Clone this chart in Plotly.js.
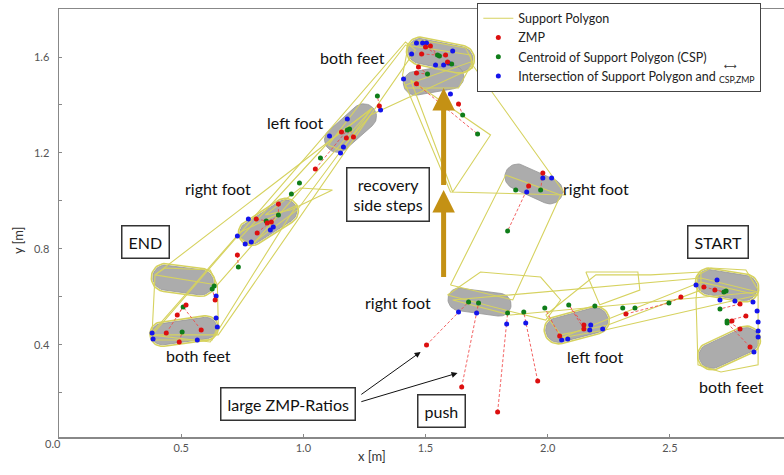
<!DOCTYPE html>
<html><head><meta charset="utf-8">
<script src="https://cdn.plot.ly/plotly-3.0.1.min.js"></script>
<style>body{margin:0;background:#fff}</style>
</head><body><div id="chart" style="width:784px;height:475px"></div>
<script>
// ---- feet (gray soles): centre, orientation (deg), length, width [m]
const footX = [0.512, 0.508, 0.857, 1.193, 1.561, 1.533, 1.943, 1.721, 2.119, 2.734, 2.742];
const footY = [0.458, 0.671, 0.9125, 1.304, 1.608, 1.504, 1.071, 0.579, 0.483, 0.65, 0.3875];
const footAngle = [8, -8, 33, 42, -12, 10, -25, -8, 15, -10, 25];
const footLen = [0.27, 0.25, 0.26, 0.25, 0.27, 0.25, 0.25, 0.26, 0.26, 0.25, 0.26];
const footWid = [0.09, 0.105, 0.095, 0.105, 0.105, 0.1, 0.105, 0.095, 0.105, 0.105, 0.105];
const outlinedFeet = [0, 1, 2, 4, 8, 9, 10];

// ---- support polygons
const spX = [
  [0.381,0.393,0.434,0.619,0.648,0.652,0.627,0.393],
  [0.373,0.742,0.975,0.947,0.652,0.619],
  [0.381,1.418,1.459,0.652],
  [0.393,1.111,1.283,0.648],
  [0.742,1.111,1.283,0.975,0.783],
  [0.844,0.988,1.119,0.947],
  [1.102,1.418,1.684,1.693,1.275,1.152],
  [1.406,1.430,1.480,1.664,1.693,1.635,1.418],
  [1.418,1.684,2.074,1.602],
  [1.439,1.766,1.611],
  [1.602,1.828,2.053,1.857],
  [1.590,1.725,1.971,2.053,1.992,1.857],
  [1.992,2.197,2.422,2.627,2.627,2.246,2.053],
  [2.156,2.295,2.369,2.377,2.213],
  [1.611,2.627,2.861,1.848],
  [2.053,2.627,2.861,2.234],
  [2.615,2.668,2.811,2.861,2.861,2.709,2.615,2.607]
];
const spY = [
  [0.45,0.692,0.721,0.7125,0.65,0.483,0.421,0.421],
  [0.442,0.871,0.983,0.942,0.4625,0.4125],
  [0.442,1.6625,1.629,0.442],
  [0.692,1.254,1.3875,0.65],
  [0.846,1.254,1.3875,0.9625,0.817],
  [0.942,1.054,1.046,0.9625],
  [1.233,1.65,1.608,1.554,1.358,1.2125],
  [1.525,1.65,1.671,1.6375,1.579,1.471,1.471],
  [1.483,1.579,1.025,1.0375],
  [1.504,1.275,1.0375],
  [0.65,1.108,1.025,0.5875],
  [0.608,0.704,0.683,0.5875,0.504,0.5375],
  [0.525,0.692,0.692,0.704,0.629,0.483,0.442],
  [0.704,0.704,0.704,0.629,0.567],
  [0.5875,0.679,0.621,0.525],
  [0.429,0.662,0.608,0.4625],
  [0.692,0.721,0.7125,0.629,0.317,0.2875,0.317,0.5875]
];

// ---- centroid of support polygon (CSP)
const cspX = [0.508,0.504,0.627,0.635,0.734,0.898,0.848,0.951,0.984,1.070,1.180,1.189,1.303,1.549,1.557,1.607,1.508,1.713,1.652,1.869,1.971,1.836,1.676,1.717,1.836,1.902,1.988,2.086,2.193,2.307,2.357,2.496,2.721,2.730,2.705,2.734,2.734];
const cspY = [0.558,0.454,0.633,0.646,0.725,0.942,0.917,1.029,1.075,1.179,1.296,1.3,1.4375,1.608,1.604,1.571,1.529,1.279,1.358,1.046,1.046,0.875,0.579,0.575,0.533,0.5375,0.554,0.567,0.5625,0.554,0.554,0.575,0.621,0.625,0.55,0.5,0.492];

// ---- ZMP and the CSP it is linked to
const zmpX = [0.520,0.484,0.439,0.582,0.492,0.639,0.730,0.898,0.807,0.852,0.869,0.811,1.049,1.156,1.176,1.205,1.311,1.500,1.520,1.484,1.582,1.590,1.471,1.463,1.463,1.635,1.980,1.922,1.504,1.648,1.795,1.959,2.049,2.148,2.148,2.320,2.545,2.639,2.684,2.787,2.811,2.787,2.828,2.754];
const zmpY = [0.567,0.525,0.45,0.4625,0.4125,0.5875,0.775,0.9875,0.925,0.908,0.9125,0.867,1.133,1.2875,1.2625,1.267,1.396,1.642,1.646,1.613,1.608,1.579,1.558,1.533,1.488,1.404,1.117,1.0625,0.4,0.225,0.121,0.25,0.4375,0.483,0.467,0.529,0.6,0.642,0.629,0.571,0.521,0.467,0.392,0.5];
const zmpLink = [0,0,0,0,1,2,4,5,6,6,6,5,10,10,11,11,12,13,13,13,14,15,16,16,17,18,20,21,22,23,24,25,26,27,27,31,31,32,32,34,35,35,36,35];

// ---- intersection of support polygon and CSP-ZMP segment
const ipX = [0.643,0.643,0.648,0.381,0.385,0.566,0.730,0.775,0.865,0.877,0.762,0.787,1.107,1.164,1.152,1.316,1.180,1.443,1.463,1.488,1.504,1.611,1.594,1.574,1.541,1.410,1.602,1.980,2.016,1.914,1.635,1.709,1.832,1.910,2.057,2.082,2.172,2.225,2.176,2.607,2.693,2.705,2.766,2.840,2.857,2.861,2.861,2.861,2.844];
const ipY = [0.604,0.5125,0.475,0.45,0.425,0.421,0.854,0.925,0.879,0.892,0.821,0.829,1.271,1.225,1.2,1.379,1.342,1.613,1.658,1.658,1.658,1.625,1.575,1.567,1.567,1.508,1.446,1.096,1.096,1.0375,0.5375,0.533,0.4875,0.492,0.421,0.425,0.4625,0.467,0.483,0.65,0.671,0.5875,0.583,0.579,0.542,0.496,0.458,0.433,0.371];

// ---- axis ticks
const xTickVals = [0.5, 1.0, 1.5, 2.0, 2.5];
const xTickText = ['0.5', '1.0', '1.5', '2.0', '2.5'];
const yTickVals = [0.2, 0.4, 0.6, 0.8, 1.0, 1.2, 1.4, 1.6];
const yTickText = [' ', '0.4', ' ', '0.8', ' ', '1.2', ' ', '1.6'];

// ---- helpers
function stadium(cx, cy, ang, len, wid) {
  const a = ang * Math.PI / 180, h = (len - wid) / 2, r = wid / 2;
  const xs = [], ys = [];
  for (let i = 0; i <= 24; i++) {
    const t = -Math.PI / 2 + Math.PI * i / 24;
    xs.push(h + r * Math.cos(t)); ys.push(r * Math.sin(t));
  }
  for (let i = 0; i <= 24; i++) {
    const t = Math.PI / 2 + Math.PI * i / 24;
    xs.push(-h + r * Math.cos(t)); ys.push(r * Math.sin(t));
  }
  xs.push(xs[0]); ys.push(ys[0]);
  return {
    x: xs.map((u, k) => cx + u * Math.cos(a) - ys[k] * Math.sin(a)),
    y: xs.map((u, k) => cy + u * Math.sin(a) + ys[k] * Math.cos(a))
  };
}

const YEL = 'rgb(214,210,95)';
const traces = [];

footX.forEach((fx, i) => {
  const s = stadium(fx, footY[i], footAngle[i], footLen[i], footWid[i]);
  traces.push({type: 'scatter', mode: 'lines', x: s.x, y: s.y, fill: 'toself',
    fillcolor: 'rgb(172,172,172)', line: {color: 'rgb(150,150,150)', width: 0.8},
    hoverinfo: 'skip', showlegend: false});
});
outlinedFeet.forEach(i => {
  const s = stadium(footX[i], footY[i], footAngle[i], footLen[i] + 0.012, footWid[i] + 0.012);
  traces.push({type: 'scatter', mode: 'lines', x: s.x, y: s.y,
    line: {color: YEL, width: 1.6}, hoverinfo: 'skip', showlegend: false});
});
spX.forEach((px, i) => {
  traces.push({type: 'scatter', mode: 'lines', x: px.concat([px[0]]), y: spY[i].concat([spY[i][0]]),
    line: {color: YEL, width: 1.1}, name: 'Support Polygon', legendgroup: 'sp',
    showlegend: i === 0, legendrank: 1, hoverinfo: 'skip'});
});
const dx = [], dy = [];
zmpX.forEach((zx, i) => { dx.push(zx, cspX[zmpLink[i]], null); dy.push(zmpY[i], cspY[zmpLink[i]], null); });
traces.push({type: 'scatter', mode: 'lines', x: dx, y: dy,
  line: {color: 'rgba(240,70,70,0.85)', width: 1, dash: '3px,2px'}, showlegend: false, hoverinfo: 'skip'});
traces.push({type: 'scatter', mode: 'markers', x: ipX, y: ipY, name: 'Intersection of Support Polygon and <sub>CSP,ZMP</sub>',
  marker: {color: 'rgb(20,20,235)', size: 5}, legendrank: 4});
traces.push({type: 'scatter', mode: 'markers', x: cspX, y: cspY, name: 'Centroid of Support Polygon (CSP)',
  marker: {color: 'rgb(15,125,25)', size: 5}, legendrank: 3});
traces.push({type: 'scatter', mode: 'markers', x: zmpX, y: zmpY, name: 'ZMP',
  marker: {color: 'rgb(220,15,15)', size: 5}, legendrank: 2});

const TF = {family: 'Lato, "Open Sans", sans-serif', size: 16, color: '#111'};
function lab(t, x, y) { return {text: t, x: x, y: y, xref: 'x', yref: 'y', showarrow: false, font: TF}; }
function box(t, x, y) { return {text: t, x: x, y: y, xref: 'x', yref: 'y', showarrow: false, font: TF,
  bordercolor: '#333', borderwidth: 1.5, borderpad: 6, bgcolor: '#fff'}; }
function arr(x, y, ax, ay, col, w, size) { return {text: ' ', x: x, y: y, ax: ax, ay: ay, xref: 'x', yref: 'y',
  axref: 'x', ayref: 'y', showarrow: true, arrowhead: 2, arrowsize: size, arrowwidth: w, arrowcolor: col}; }

const annotations = [
  arr(1.574, 1.046, 1.574, 0.642, 'rgb(196,145,20)', 5, 0.9),
  arr(1.574, 1.471, 1.574, 1.025, 'rgb(196,145,20)', 5, 0.9),
  arr(1.480, 0.371, 1.225, 0.185, '#111', 1, 1.2),
  arr(1.631, 0.283, 1.225, 0.160, '#111', 1, 1.2),
  lab('both feet', 1.201, 1.596),
  lab('left foot', 0.967, 1.329),
  lab('right foot', 0.652, 1.05),
  lab('both feet', 0.570, 0.358),
  lab('right foot', 2.197, 1.054),
  lab('right foot', 1.389, 0.579),
  lab('left foot', 2.197, 0.354),
  lab('both feet', 2.754, 0.225),
  box('END', 0.352, 0.829),
  box('START', 2.697, 0.829),
  box('recovery<br>side steps', 1.348, 1.025),
  box('large ZMP-Ratios', 0.939, 0.154),
  box('push', 1.566, 0.125),
  {text: '0.0', xref: 'paper', yref: 'paper', x: -0.022, y: -0.035, showarrow: false,
   font: {family: 'Lato, sans-serif', size: 11, color: '#555'}},
  {text: 'x [m]', xref: 'x', yref: 'paper', x: 1.279, y: -0.068, showarrow: false,
   font: {family: 'Lato, sans-serif', size: 13, color: '#333'}},
  {text: 'y [m]', xref: 'paper', yref: 'y', x: -0.07, y: 0.838, textangle: -90, showarrow: false,
   font: {family: 'Lato, sans-serif', size: 13, color: '#333'}},
  {text: '⟷', xref: 'paper', yref: 'paper', x: 0.938, y: 0.884, showarrow: false,
   font: {family: 'DejaVu Sans, sans-serif', size: 9, color: '#333'}}
];

const layout = {
  width: 784, height: 475,
  margin: {l: 59, r: 0, t: 9, b: 38},
  paper_bgcolor: '#fff', plot_bgcolor: '#fff',
  showlegend: true,
  legend: {x: 0.577, y: 1.015, xanchor: 'left', yanchor: 'top', bgcolor: '#fff',
    bordercolor: '#444', borderwidth: 1, tracegroupgap: 0, itemwidth: 30,
    font: {family: 'Lato, "Open Sans", sans-serif', size: 12.5, color: '#222'}},
  xaxis: {range: [0, 2.967], tickvals: xTickVals, ticktext: xTickText, ticks: 'inside', ticklen: 3,
    tickcolor: '#888', showgrid: false, zeroline: false, showline: true, linecolor: '#888', linewidth: 1.5,
    mirror: true, tickfont: {family: 'Lato, sans-serif', size: 11, color: '#555'}},
  yaxis: {range: [0.0165, 1.8], tickvals: yTickVals, ticktext: yTickText, ticks: 'inside', ticklen: 3,
    tickcolor: '#888', showgrid: false, zeroline: false, showline: true, linecolor: '#888', linewidth: 1.5,
    mirror: true, ticklabelstandoff: 6, tickfont: {family: 'Lato, sans-serif', size: 11, color: '#555'}},
  annotations: annotations
};

Plotly.newPlot('chart', traces, layout, {displayModeBar: false, staticPlot: true});
</script>
</body></html>
